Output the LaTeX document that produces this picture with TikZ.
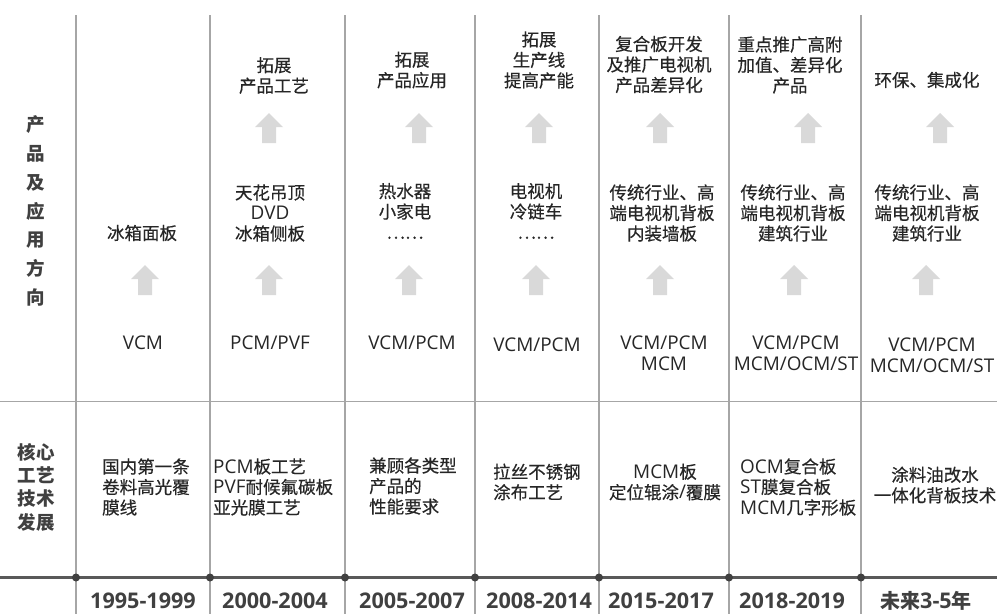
\documentclass[tikz,border=0pt]{standalone}
\usepackage{fontspec}
\setmainfont{Open Sans}[Scale=1.08]
\newfontfamily\cjk{Noto Sans CJK SC}[FakeBold=0.4]
\newfontfamily\cjkside{Noto Sans CJK SC}
\definecolor{txt}{HTML}{262626}
\definecolor{lbl}{HTML}{404040}
\definecolor{vline}{HTML}{A6A6A6}
\definecolor{tline}{HTML}{595959}
\definecolor{arrfill}{HTML}{D9D9D9}
\tikzset{
  body/.style={font=\fontsize{17.5}{20.5}\selectfont, text=txt, align=center, inner sep=0pt},
  cbody/.style={body, font=\fontsize{17.5}{20.5}\selectfont\cjk},
  lbody/.style={body, align=left, anchor=west},
  side/.style={font=\fontsize{18.5}{20.5}\selectfont\cjkside\bfseries, text=lbl, align=center, inner sep=0pt},
  year/.style={font=\fontsize{20}{24}\selectfont\bfseries, text=lbl, inner sep=0pt},
  grid/.style={draw=vline, line width=1.4pt},
  hgrid/.style={draw=vline, line width=1pt},
  timeline/.style={draw=tline, line width=3pt},
  tdot/.style={circle, fill=lbl, inner sep=0pt, minimum size=8pt},
  uparrow/.pic={\fill[arrfill] (-14,14) -- (0,0) -- (14,14) -- (7,14) -- (7,30) -- (-7,30) -- (-7,14) -- cycle;}
}
\begin{document}
\begin{tikzpicture}[x=1pt,y=-1pt]
\useasboundingbox (0,0) rectangle (997,614);
% grid lines
\foreach \xx in {76,210,345,475,599,729,861} {
  \draw[grid] (\xx,15) -- (\xx,614);
}
\coordinate (hl) at (0,401);
\coordinate (hr) at (997,401);
\draw[hgrid] (hl) -- (hr);
\coordinate (tl) at (0,577.5);
\coordinate (tr) at (997,577.5);
\draw[timeline] (tl) -- (tr);
\foreach \xx [count=\i] in {76,210,345,475,599,729,861} {
  \node[tdot] (d\i) at (\xx,577.5) {};
}
% side labels
\node[side, font=\fontsize{18.5}{28.7}\selectfont\cjkside\bfseries] (s1) at (36,211) {产\\品\\及\\应\\用\\方\\向};
\node[side, font=\fontsize{18.5}{23.3}\selectfont\cjkside\bfseries] (s2) at (36,487) {核心\\工艺\\技术\\发展};
% top row
\node[cbody] (t2) at (274,75.5) {拓展\\产品工艺};
\node[cbody] (t3) at (412,70) {拓展\\产品应用};
\node[cbody] (t4) at (539,60) {拓展\\生产线\\提高产能};
\node[cbody] (t5) at (659,64.5) {复合板开发\\及推广电视机\\产品差异化};
\node[cbody] (t6) at (790,65) {重点推广高附\\加值、差异化\\产品};
\node[cbody] (t7) at (927,80) {环保、集成化};
% upper arrows
\pic at (269,113) {uparrow};
\pic at (419,113) {uparrow};
\pic at (539,113) {uparrow};
\pic at (660,113) {uparrow};
\pic at (808,113) {uparrow};
\pic at (940,113) {uparrow};
% application row
\node[cbody] (a1) at (142,233) {冰箱面板};
\node[body] (a2) at (270,213) {{\cjk 天花吊顶}\\DVD\\{\cjk 冰箱侧板}};
\node[cbody] (a3) at (405,211) {热水器\\小家电\\……};
\node[cbody] (a4) at (536,211) {电视机\\冷链车\\……};
\node[cbody] (a5) at (662,213) {传统行业、高\\端电视机背板\\内装墙板};
\node[cbody] (a6) at (793,213) {传统行业、高\\端电视机背板\\建筑行业};
\node[cbody] (a7) at (927,213) {传统行业、高\\端电视机背板\\建筑行业};
% lower arrows
\pic at (145,265) {uparrow};
\pic at (269,265) {uparrow};
\pic at (409,265) {uparrow};
\pic at (536,265) {uparrow};
\pic at (660,265) {uparrow};
\pic at (794,265) {uparrow};
\pic at (926,265) {uparrow};
% material row
\node[body] (m1) at (143,343) {VCM};
\node[body] (m2) at (270,343) {PCM/PVF};
\node[body] (m3) at (412,343) {VCM/PCM};
\node[body] (m4) at (537,345) {VCM/PCM};
\node[body] (m5) at (664,353) {VCM/PCM\\MCM};
\node[body] (m6) at (796,353) {VCM/PCM\\MCM/OCM/ST};
\node[body] (m7) at (932,355) {VCM/PCM\\MCM/OCM/ST};
% core technology row
\node[lbody, font=\fontsize{17.5}{20.5}\selectfont\cjk] (c1) at (102,487) {国内第一条\\卷料高光覆\\膜线};
\node[lbody] (c2) at (213,487) {PCM{\cjk 板工艺}\\PVF{\cjk 耐候氟碳板}\\{\cjk 亚光膜工艺}};
\node[lbody, font=\fontsize{17.5}{20.5}\selectfont\cjk] (c3) at (369,486) {兼顾各类型\\产品的\\性能要求};
\node[lbody, font=\fontsize{17.5}{20.5}\selectfont\cjk] (c4) at (493,482) {拉丝不锈钢\\涂布工艺};
\node[body] (c5) at (665,482) {MCM{\cjk 板}\\{\cjk 定位辊涂}/{\cjk 覆膜}};
\node[lbody] (c6) at (740,487) {OCM{\cjk 复合板}\\ST{\cjk 膜复合板}\\MCM{\cjk 几字形板}};
\node[cbody] (c7) at (935,485) {涂料油改水\\一体化背板技术};
% years
\node[year] (y1) at (143,601) {1995-1999};
\node[year] (y2) at (275,601) {2000-2004};
\node[year] (y3) at (412,601) {2005-2007};
\node[year] (y4) at (539,601) {2008-2014};
\node[year] (y5) at (661,601) {2015-2017};
\node[year] (y6) at (792,601) {2018-2019};
\node[year] (y7) at (926,601) {{\cjkside\bfseries 未来}3-5{\cjkside\bfseries 年}};
\end{tikzpicture}
\end{document}
